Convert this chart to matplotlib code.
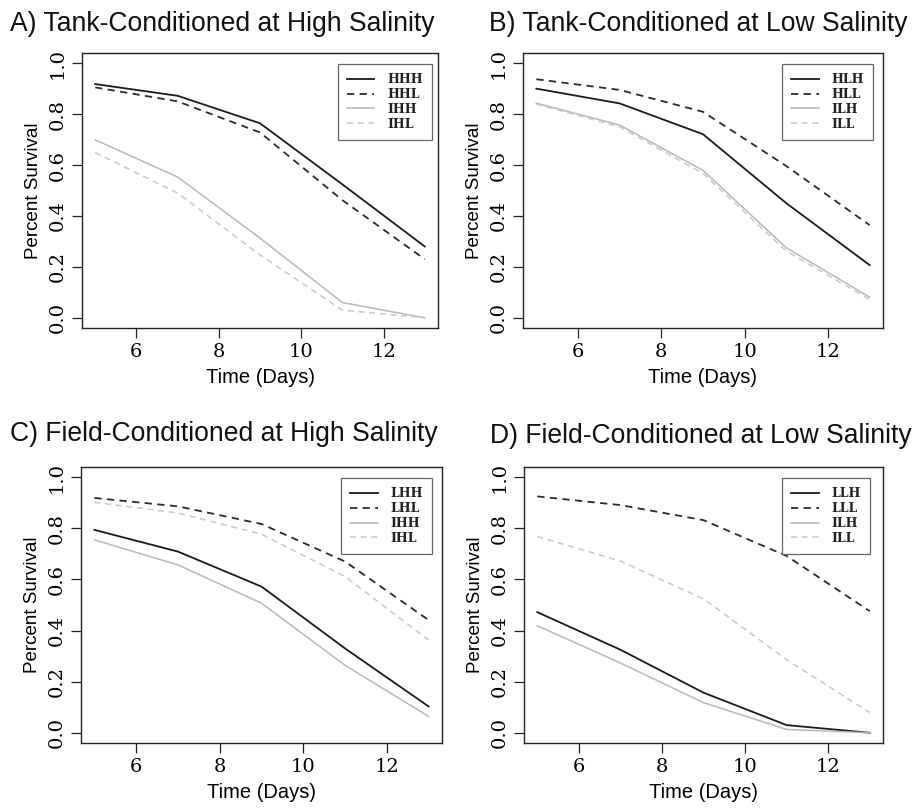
import matplotlib
matplotlib.use("Agg")
import matplotlib.pyplot as plt

days = [5, 7, 9, 11, 13]

titles = ["A) Tank-Conditioned at High Salinity",
          "B) Tank-Conditioned at Low Salinity",
          "C) Field-Conditioned at High Salinity",
          "D) Field-Conditioned at Low Salinity"]

labels_A = ["HHH", "HHL", "IHH", "IHL"]
HHH = [0.918, 0.872, 0.764, 0.524, 0.280]
HHL = [0.905, 0.850, 0.728, 0.462, 0.230]
IHH_A = [0.699, 0.553, 0.313, 0.060, 0.000]
IHL_A = [0.649, 0.490, 0.247, 0.030, 0.000]

labels_B = ["HLH", "HLL", "ILH", "ILL"]
HLH = [0.900, 0.842, 0.721, 0.450, 0.207]
HLL = [0.937, 0.895, 0.809, 0.596, 0.364]
ILH_B = [0.843, 0.757, 0.579, 0.275, 0.081]
ILL_B = [0.839, 0.750, 0.567, 0.262, 0.072]

labels_C = ["LHH", "LHL", "IHH", "IHL"]
LHH = [0.794, 0.709, 0.572, 0.330, 0.103]
LHL = [0.919, 0.886, 0.817, 0.670, 0.441]
IHH_C = [0.755, 0.657, 0.507, 0.264, 0.064]
IHL_C = [0.902, 0.860, 0.777, 0.611, 0.363]

labels_D = ["LLH", "LLL", "ILH", "ILL"]
LLH = [0.472, 0.325, 0.157, 0.030, 0.000]
LLL = [0.925, 0.891, 0.832, 0.692, 0.476]
ILH_D = [0.419, 0.273, 0.118, 0.013, 0.000]
ILL_D = [0.768, 0.672, 0.524, 0.286, 0.079]

panels = [
    (titles[0], labels_A, [HHH, HHL, IHH_A, IHL_A]),
    (titles[1], labels_B, [HLH, HLL, ILH_B, ILL_B]),
    (titles[2], labels_C, [LHH, LHL, IHH_C, IHL_C]),
    (titles[3], labels_D, [LLH, LLL, ILH_D, ILL_D]),
]

W, H = 923, 810
fig = plt.figure(figsize=(W / 100, H / 100), dpi=100)

# pixel boxes (left, right, top, bottom)
boxes = [(82, 438, 53, 328), (523, 883, 53, 328),
         (81, 442, 467, 743), (524, 883, 467, 743)]
title_pos = [(10, 24), (489, 24), (10, 434), (490, 436)]
leg_anchor = [(0.983, 0.96), (0.972, 0.96), (0.972, 0.96), (0.964, 0.96)]

styles = [dict(color="#1a1a1a", ls="-", lw=1.3),
          dict(color="#2a2a2a", ls=(0, (4, 3)), lw=1.3),
          dict(color="#b8b8b8", ls="-", lw=1.1),
          dict(color="#c8c8c8", ls=(0, (4, 3)), lw=1.1)]

sans = ["Liberation Sans", "DejaVu Sans"]
serif = ["DejaVu Serif"]

for (title, labs, series), (l, r, t, b), tp, la in zip(panels, boxes, title_pos, leg_anchor):
    ax = fig.add_axes([l / W, (H - b) / H, (r - l) / W, (b - t) / H])
    for lab, vals, st in zip(labs, series, styles):
        ax.plot(days, vals, label=lab, **st)
    ax.set_xlim(4.68, 13.32)
    ax.set_ylim(-0.04, 1.04)
    ax.set_xticks([6, 8, 10, 12])
    ax.set_yticks([0.0, 0.2, 0.4, 0.6, 0.8, 1.0])
    ax.set_xticklabels(["6", "8", "10", "12"], family=serif, fontsize=14)
    ax.set_yticklabels(["0.0", "0.2", "0.4", "0.6", "0.8", "1.0"], family=serif,
                       fontsize=14, rotation=90, va="center")
    ax.tick_params(direction="out", length=7, width=0.9, color="#222222", pad=4)
    for sp in ax.spines.values():
        sp.set_linewidth(1.0)
        sp.set_color("#222222")
    ax.set_xlabel("Time (Days)", family=sans, fontsize=14.5, labelpad=5)
    ax.set_ylabel("Percent Survival", family=sans, fontsize=13.5, labelpad=5)
    leg = ax.legend(loc="upper right", bbox_to_anchor=la, borderaxespad=0,
                    fancybox=False, framealpha=1, edgecolor="#666666",
                    prop=dict(family=serif, size=9, weight="bold"),
                    handlelength=2.2, handletextpad=1.0, labelspacing=0.14,
                    borderpad=0.75)
    leg.get_frame().set_linewidth(0.9)
    for txt in leg.get_texts():
        txt.set_color("#222222")
    fig.text(tp[0] / W, 1 - tp[1] / H, title, family=sans, fontsize=19.1,
             ha="left", va="center", color="#111111")

fig.savefig("out.png", dpi=100)
